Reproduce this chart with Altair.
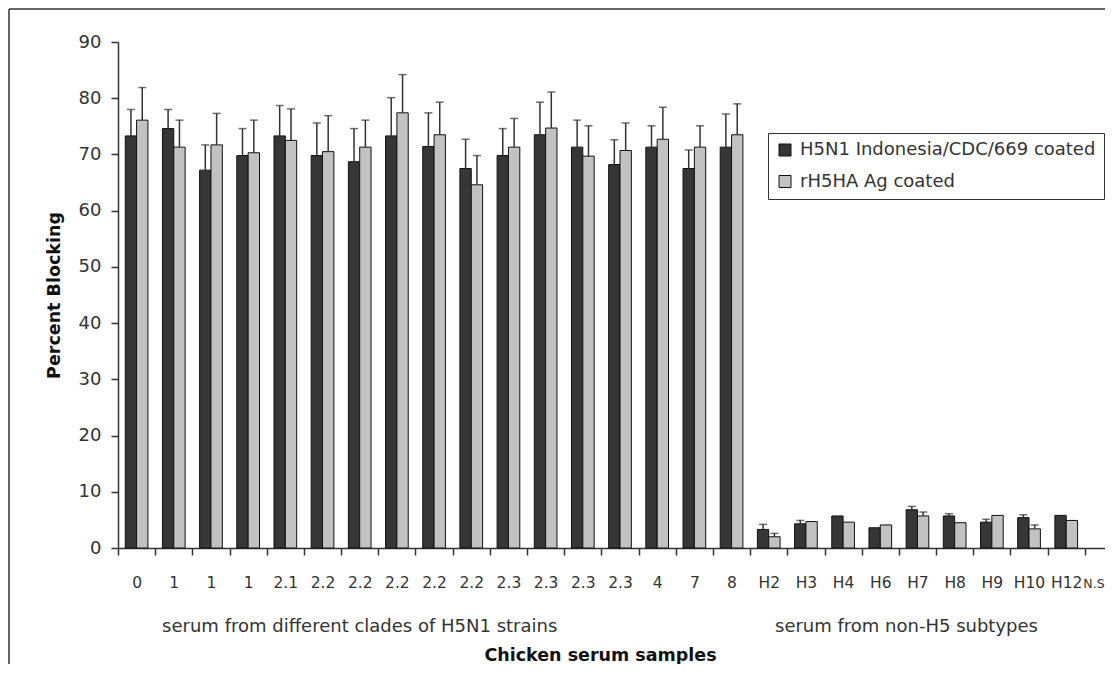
import altair as alt
import pandas as pd

categories = ["0", "1", "1", "1", "2.1", "2.2", "2.2", "2.2", "2.2", "2.2",
              "2.3", "2.3", "2.3", "2.3", "4", "7", "8",
              "H2", "H3", "H4", "H6", "H7", "H8", "H9", "H10", "H12", "N.S"]

series_names = ["H5N1 Indonesia/CDC/669 coated", "rH5HA Ag coated"]

dark_values = [73.3, 74.6, 67.2, 69.8, 73.3, 69.8, 68.7, 73.3, 71.4, 67.5,
               69.8, 73.5, 71.3, 68.2, 71.3, 67.5, 71.3,
               3.3, 4.3, 5.7, 3.6, 6.8, 5.7, 4.6, 5.4, 5.8, None]
dark_errors = [4.7, 3.4, 4.5, 4.8, 5.4, 5.8, 5.9, 6.8, 6.0, 5.2,
               4.8, 5.8, 4.8, 4.4, 3.8, 3.3, 5.9,
               0.9, 0.6, 0.0, 0.0, 0.6, 0.4, 0.5, 0.5, 0.0, None]

light_values = [76.1, 71.3, 71.7, 70.3, 72.5, 70.5, 71.3, 77.4, 73.5, 64.6,
                71.3, 74.7, 69.7, 70.7, 72.7, 71.3, 73.5,
                2.0, 4.7, 4.6, 4.1, 5.7, 4.5, 5.8, 3.4, 4.9, None]
light_errors = [5.8, 4.8, 5.6, 5.8, 5.6, 6.4, 4.8, 6.8, 5.8, 5.2,
                5.1, 6.4, 5.4, 4.9, 5.7, 3.8, 5.5,
                0.6, 0.0, 0.0, 0.0, 0.7, 0.0, 0.0, 0.7, 0.0, None]

group_labels = ["serum from different clades of H5N1 strains", "serum from non-H5 subtypes"]
group_positions = [6, 21]

FONT = "DejaVu Sans"
TXT = "#333333"

rows = []
for name, vals, errs in [(series_names[0], dark_values, dark_errors),
                         (series_names[1], light_values, light_errors)]:
    for i, (v, e) in enumerate(zip(vals, errs)):
        if v is None:
            continue
        rows.append({"idx": i, "series": name, "value": v, "err": e, "top": v + e})
df = pd.DataFrame(rows)

n = len(categories)
last = n - 1
label_expr = "[" + ",".join("'" + c + "'" for c in categories) + "][datum.value]"

step = 1004 / n
x_scale = alt.Scale(domain=list(range(n)), range=[0, 1004], paddingInner=0.39, paddingOuter=0.195)
off_scale = alt.Scale(domain=series_names, paddingInner=0, paddingOuter=0)
y_scale = alt.Scale(domain=[0, 90], nice=False)

test_last = "datum.value == %d" % last
x_enc = alt.X("idx:O", scale=x_scale,
              axis=alt.Axis(title="Chicken serum samples", labelExpr=label_expr, labelAngle=0,
                            tickOffset=-step / 2,
                            labelOffset={"condition": {"test": test_last, "value": -2}, "value": step / 2},
                            labelAlign={"condition": {"test": test_last, "value": "left"}, "value": "center"},
                            labelFontSize={"condition": {"test": test_last, "value": 12.5}, "value": 15.5},
                            labelBaseline="alphabetic", labelPadding=32,
                            tickSize=7, labelFont=FONT, labelColor=TXT,
                            titleFont=FONT, titleFontSize=17.5, titleFontWeight="bold", titleColor="#111111",
                            titleX=482, titleY=112.5, titleBaseline="alphabetic",
                            domainColor="#333333", domainWidth=1.5, tickColor="#333333", tickWidth=1.5,
                            grid=False))
y_enc = alt.Y("value:Q", scale=y_scale, stack=None,
              axis=alt.Axis(title="Percent Blocking", values=list(range(0, 91, 10)), grid=False,
                            tickSize=7, labelPadding=10, labelFont=FONT, labelFontSize=18, labelColor=TXT,
                            titleFont=FONT, titleFontSize=17.5, titleFontWeight="bold", titleColor="#111111",
                            titleX=-64, titleY=253, titleAngle=-90, titleBaseline="middle",
                            domainColor="#333333", domainWidth=1.5, tickColor="#333333", tickWidth=1.5))

color_enc = alt.Color("series:N", scale=alt.Scale(domain=series_names, range=["#363636", "#c2c2c2"]),
                      legend=alt.Legend(title=None, orient="none", legendX=650, legendY=91,
                                        symbolType="square", symbolSize=144, symbolStrokeColor="#111111",
                                        symbolStrokeWidth=1, labelFont=FONT, labelFontSize=18,
                                        labelColor=TXT, labelOffset=6, labelLimit=0, rowPadding=13.5,
                                        padding=8, strokeColor="#333333", fillColor="white"))

base = alt.Chart(df)

bars = base.mark_bar(stroke="#111111", strokeWidth=1).encode(
    x=x_enc,
    xOffset=alt.XOffset("series:N", scale=off_scale),
    y=y_enc,
    color=color_enc,
)

x_plain = alt.X("idx:O", scale=x_scale)
err_base = base.transform_filter("datum.err > 0")
rules = err_base.mark_rule(color="#333333", strokeWidth=1.5).encode(
    x=x_plain,
    xOffset=alt.XOffset("series:N", scale=off_scale),
    y=alt.Y("value:Q", scale=y_scale),
    y2="top:Q",
)
caps = err_base.mark_tick(color="#333333", size=8, thickness=1.5).encode(
    x=x_plain,
    xOffset=alt.XOffset("series:N", scale=off_scale),
    y=alt.Y("top:Q", scale=y_scale),
)

gdf = pd.DataFrame({"idx": group_positions, "label": group_labels})
groups_left = alt.Chart(gdf.iloc[[0]]).mark_text(font=FONT, fontSize=18, color=TXT,
                                                 baseline="alphabetic", align="center").encode(
    x=x_plain, y=alt.value(590), text="label:N")
groups_right = alt.Chart(gdf.iloc[[1]]).mark_text(font=FONT, fontSize=18, color=TXT,
                                                  baseline="alphabetic", align="center", dx=-11).encode(
    x=x_plain, y=alt.value(590), text="label:N")

frame_src = alt.Chart(pd.DataFrame({"k": [0]}))
frame_top = frame_src.mark_rule(color="#333333", strokeWidth=1.5).encode(
    x=alt.value(-109), x2=alt.value(1010), y=alt.value(-33))
frame_left = frame_src.mark_rule(color="#333333", strokeWidth=1.5).encode(
    x=alt.value(-109), y=alt.value(-33), y2=alt.value(700))

chart = alt.layer(bars, rules, caps, groups_left, groups_right, frame_top, frame_left).properties(
    width=987, height=506,
    background="white",
    autosize=alt.AutoSizeParams(type="none"),
    padding={"left": 110, "top": 34, "right": 0, "bottom": 116},
).configure_view(stroke=None)

chart.save("out.html", embed_options={"renderer": "svg", "actions": False})
